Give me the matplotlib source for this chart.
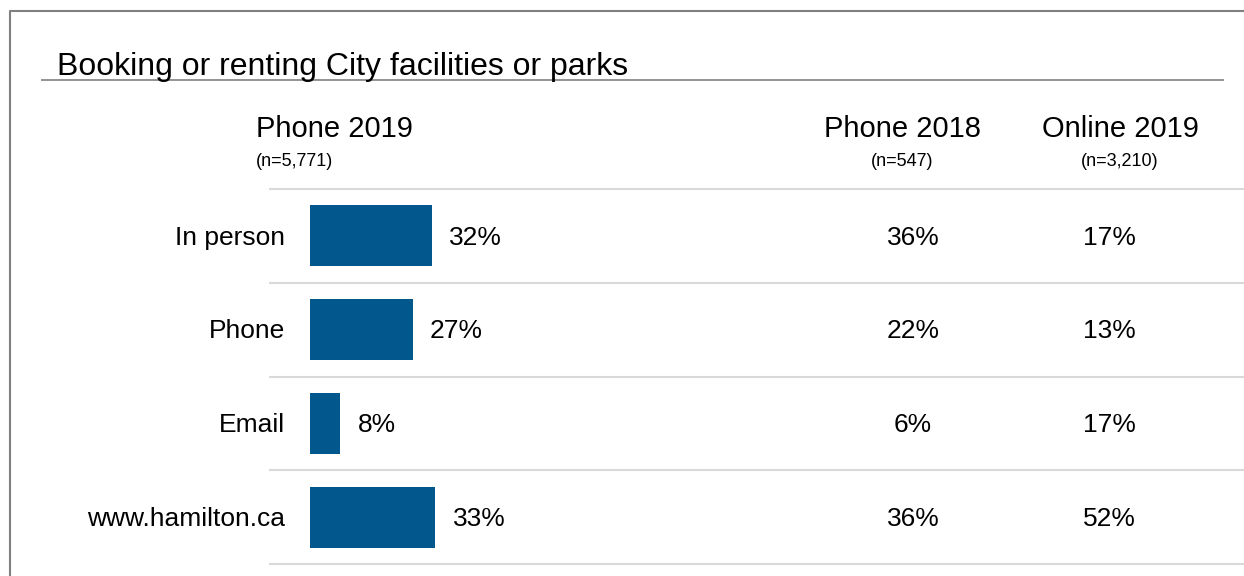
import matplotlib.pyplot as plt
import matplotlib.transforms as mtransforms

plt.rcParams['font.family'] = ['Liberation Sans', 'DejaVu Sans']

title = "Booking or renting City facilities or parks"
categories = ["In person", "Phone", "Email", "www.hamilton.ca"]
phone_2019 = [32, 27, 8, 33]
phone_2018 = [36, 22, 6, 36]
online_2019 = [17, 13, 17, 52]
col_heads = ["Phone 2019", "Phone 2018", "Online 2019"]
col_n = ["(n=5,771)", "(n=547)", "(n=3,210)"]

W, H = 1244, 576
fig = plt.figure(figsize=(W / 100, H / 100), dpi=100)

# background axes in pixel units for frame, title, headers, rules
bg = fig.add_axes([0, 0, 1, 1])
bg.set_xlim(0, W)
bg.set_ylim(H, 0)
bg.axis('off')

# bar axes: 0..100% across 380 px starting at x=310, rows from y=189 to 564
row_top, row_h = 189, 93.75
ax = fig.add_axes([310 / W, 1 - (row_top + 4 * row_h) / H, 380 / W, 4 * row_h / H])
ax.set_xlim(0, 100)
ax.set_ylim(3.5, -0.5)
ax.axis('off')

bar_color = '#02588c'
ax.barh(range(len(categories)), phone_2019, height=0.65, color=bar_color)

# blended: x in pixels, y in category rows
tr = mtransforms.blended_transform_factory(bg.transData, ax.transData)

fs_val = 19
dy = 0.02
for i, cat in enumerate(categories):
    ax.text(-6.6, i + dy, cat, ha='right', va='center', fontsize=fs_val)
    ax.text(phone_2019[i] + 4.6, i + dy, f"{phone_2019[i]}%", ha='left', va='center', fontsize=fs_val)
    ax.text(913, i + dy, f"{phone_2018[i]}%", ha='center', va='center', fontsize=fs_val, transform=tr)
    ax.text(1109, i + dy, f"{online_2019[i]}%", ha='center', va='center', fontsize=fs_val, transform=tr)

# row rules
for k in range(len(categories) + 1):
    bg.plot([269, W], [row_top + k * row_h] * 2, color='#d9d9d9', lw=1.5,
            solid_capstyle='butt')

# frame (left and top only)
bg.plot([10, 10, W], [H, 11, 11], color='#808080', lw=1.5, solid_capstyle='butt')

# title and underline
bg.text(57, 75, title, fontsize=23, ha='left', va='baseline')
bg.plot([41, 1224], [80, 80], color='#808080', lw=1.2, solid_capstyle='butt')

# column headers
bg.text(256, 137, col_heads[0], fontsize=21, ha='left', va='baseline')
bg.text(256, 166, col_n[0], fontsize=13, ha='left', va='baseline')
for x, head, n in [(902, col_heads[1], col_n[1]), (1120, col_heads[2], col_n[2])]:
    bg.text(x, 137, head, fontsize=21, ha='center', va='baseline')
    bg.text(x, 166, n, fontsize=13, ha='center', va='baseline')

fig.savefig('out.png', dpi=100)
